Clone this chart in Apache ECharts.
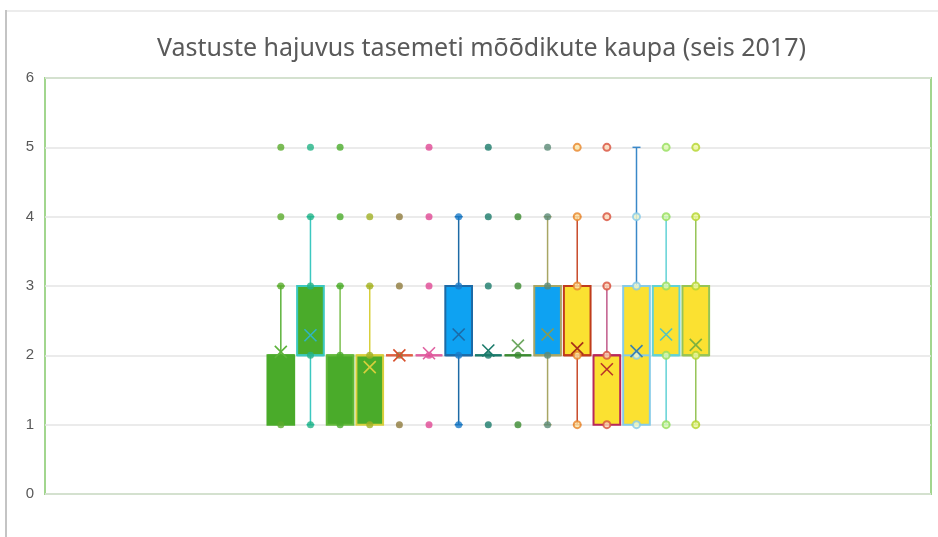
<!DOCTYPE html>
<html>
<head>
<meta charset="utf-8">
<title>Vastuste hajuvus</title>
<script src="https://cdn.jsdelivr.net/npm/echarts@6/dist/echarts.min.js"></script>
<style>
  html, body { margin: 0; padding: 0; background: #ffffff; }
  #chart { width: 938px; height: 537px; }
</style>
</head>
<body>
<div id="chart"></div>
<script>
// mõõdikud (15 kasti, nimed pole pildil näha)
const categories = ['M1', 'M2', 'M3', 'M4', 'M5', 'M6', 'M7', 'M8', 'M9', 'M10', 'M11', 'M12', 'M13', 'M14', 'M15'];

// [min, Q1, mediaan, Q3, max]
const boxMin    = [1, 1, 1, 1, 2, 2, 1, 2, 2, 1, 1, 1, 1, 1, 1];
const boxQ1     = [1, 2, 1, 1, 2, 2, 2, 2, 2, 2, 2, 1, 1, 2, 2];
const boxMedian = [2, 2, 2, 2, 2, 2, 2, 2, 2, 2, 2, 2, 2, 2, 2];
const boxQ3     = [2, 3, 2, 2, 2, 2, 3, 2, 2, 3, 3, 2, 3, 3, 3];
const boxMax    = [3, 4, 3, 3, 2, 2, 4, 2, 2, 4, 4, 3, 5, 4, 4];

// keskmised (×), null = pole näha
const means = [2.05, 2.29, null, 1.83, 2.0, 2.03, 2.3, 2.07, 2.14, 2.3, 2.1, 1.8, 2.06, 2.3, 2.15];

// üksikud vastuste punktid
const points = [
    [1, 3, 4, 5],
    [1, 2, 3, 4, 5],
    [1, 2, 3, 4, 5],
    [1, 2, 3, 4],
    [1, 2, 3, 4],
    [1, 2, 3, 4, 5],
    [1, 2, 3, 4],
    [1, 2, 3, 4, 5],
    [1, 2, 3, 4],
    [1, 2, 3, 4, 5],
    [1, 2, 3, 4, 5],
    [1, 2, 3, 4, 5],
    [1, 2, 3, 4],
    [1, 2, 3, 4, 5],
    [1, 2, 3, 4, 5]
];

const yTicks = [0, 1, 2, 3, 4, 5, 6];

// stiilid
const boxFill   = ['#4aab2a', '#4aab2a', '#4aab2a', '#4aab2a', '#e06040', '#e060a0', '#0ea2f2', '#1a7a6a', '#3a8a30', '#0ea2f2', '#fbe131', '#fbe131', '#fbe131', '#fbe131', '#fbe131'];
const boxLine   = ['#4aab2a', '#3cc8c0', '#62b83a', '#d8cf3c', '#e06040', '#e060a0', '#1d6aa6', '#1a7a6a', '#3a8a30', '#a8a664', '#c03c1c', '#b8285a', '#86cbe8', '#62d2d6', '#96c456'];
const whisker   = ['#5cb23a', '#3cc8c0', '#7cc050', '#d8cf3c', '#e06040', '#e060a0', '#1d6aa6', '#1a7a6a', '#3a8a30', '#a8a664', '#c84a2a', '#c05a8a', '#3a88c8', '#62d2d6', '#96c456'];
const dotColor  = ['#5aab2c', '#22b386', '#4aab2a', '#a0b024', '#8e7a3c', '#e04794', '#1a7ac8', '#1a7a6a', '#3a8a30', '#5a8a76', '#e8862c', '#d8503c', '#86cbe8', '#96de5e', '#b4d42e'];
const dotFill   = [null, null, null, null, null, null, null, null, null, null, '#fbe6a8', '#fbd8b8', '#f4f8c8', '#dff7b0', '#eef7a0'];
const meanColor = ['#5cb23a', '#30b4c4', '#62b83a', '#d8cf3c', '#d8502c', '#e060a0', '#1d6aa6', '#1a7a6a', '#6ea860', '#8a9a50', '#a8301a', '#b83428', '#3a80b0', '#50c4c4', '#7cb040'];

const chart = echarts.init(document.getElementById('chart'));

const boxData = categories.map((c, i) => [i, boxMin[i], boxQ1[i], boxMedian[i], boxQ3[i], boxMax[i]]);

const dotData = [];
points.forEach((vals, i) => {
    vals.forEach(v => {
        dotData.push({
            value: [i, v],
            itemStyle: dotFill[i]
                ? { color: dotFill[i], borderColor: dotColor[i], borderWidth: 2 }
                : { color: dotColor[i] }
        });
    });
});

const meanData = [];
means.forEach((m, i) => {
    if (m !== null) meanData.push([i, m]);
});

// kast + vurrud + mediaan
function renderBox(params, api) {
    const i = params.dataIndex;
    const pMin = api.coord([api.value(0), api.value(1)]);
    const pQ1 = api.coord([api.value(0), api.value(2)]);
    const pMed = api.coord([api.value(0), api.value(3)]);
    const pQ3 = api.coord([api.value(0), api.value(4)]);
    const pMax = api.coord([api.value(0), api.value(5)]);
    const w = api.size([1, 0])[0] * 0.9;
    const x = pQ1[0];
    const cap = 4;
    const children = [];
    const wStyle = { stroke: whisker[i], lineWidth: 1.5, fill: null };
    if (pMin[1] !== pQ1[1]) {
        children.push({ type: 'line', shape: { x1: x, y1: pQ1[1], x2: x, y2: pMin[1] }, style: wStyle });
        children.push({ type: 'line', shape: { x1: x - cap, y1: pMin[1], x2: x + cap, y2: pMin[1] }, style: wStyle });
    }
    if (pMax[1] !== pQ3[1]) {
        children.push({ type: 'line', shape: { x1: x, y1: pQ3[1], x2: x, y2: pMax[1] }, style: wStyle });
        children.push({ type: 'line', shape: { x1: x - cap, y1: pMax[1], x2: x + cap, y2: pMax[1] }, style: wStyle });
    }
    children.push({
        type: 'rect',
        shape: { x: x - w / 2, y: pQ3[1], width: w, height: pQ1[1] - pQ3[1] },
        style: { fill: boxFill[i], stroke: boxLine[i], lineWidth: 2 }
    });
    children.push({
        type: 'line',
        shape: { x1: x - w / 2, y1: pMed[1], x2: x + w / 2, y2: pMed[1] },
        style: { stroke: boxLine[i], lineWidth: 2 }
    });
    return { type: 'group', children: children };
}

// keskmise rist
function renderMean(params, api) {
    const idx = api.value(0);
    const p = api.coord([idx, api.value(1)]);
    const r = 6;
    const st = { stroke: meanColor[idx], lineWidth: 1.6 };
    return {
        type: 'group',
        children: [
            { type: 'line', shape: { x1: p[0] - r, y1: p[1] - r, x2: p[0] + r, y2: p[1] + r }, style: st },
            { type: 'line', shape: { x1: p[0] - r, y1: p[1] + r, x2: p[0] + r, y2: p[1] - r }, style: st }
        ]
    };
}

chart.setOption({
    animation: false,
    backgroundColor: '#ffffff',
    title: {
        text: 'Vastuste hajuvus tasemeti mõõdikute kaupa (seis 2017)',
        left: 152,
        top: 31,
        textStyle: { fontFamily: 'Noto Sans', fontSize: 25, fontWeight: 'normal', color: '#595959' }
    },
    graphic: [
        { type: 'rect', shape: { x: 5, y: 10, width: 2, height: 527 }, style: { fill: '#c4c4c4' } },
        { type: 'rect', shape: { x: 7, y: 10, width: 931, height: 2 }, style: { fill: '#ececec' } }
    ],
    grid: [
        { left: 45, right: 7, top: 78, bottom: 43, show: true, borderColor: '#a2d68e', borderWidth: 2 },
        { left: 266, right: 227.4, top: 78, bottom: 43 }
    ],
    xAxis: [
        { type: 'category', gridIndex: 0, data: [''], show: false },
        { type: 'category', gridIndex: 1, data: categories, show: false }
    ],
    yAxis: [
        {
            type: 'value', gridIndex: 0,
            min: yTicks[0], max: yTicks[yTicks.length - 1], interval: 1,
            axisLine: { show: false },
            axisTick: { show: false },
            axisLabel: { color: '#595959', fontSize: 15, fontFamily: 'Liberation Sans', margin: 11 },
            splitLine: { lineStyle: { color: '#e4e4e4', width: 1.5 } }
        },
        { type: 'value', gridIndex: 1, min: 0, max: 6, show: false }
    ],
    series: [
        {
            type: 'custom',
            xAxisIndex: 1, yAxisIndex: 1,
            renderItem: renderBox,
            encode: { x: 0, y: [1, 2, 3, 4, 5] },
            data: boxData,
            z: 2
        },
        {
            type: 'scatter',
            xAxisIndex: 1, yAxisIndex: 1,
            symbol: 'circle',
            symbolSize: 7,
            data: dotData,
            z: 3
        },
        {
            type: 'custom',
            xAxisIndex: 1, yAxisIndex: 1,
            renderItem: renderMean,
            encode: { x: 0, y: 1 },
            data: meanData,
            z: 4
        }
    ]
});
</script>
</body>
</html>
